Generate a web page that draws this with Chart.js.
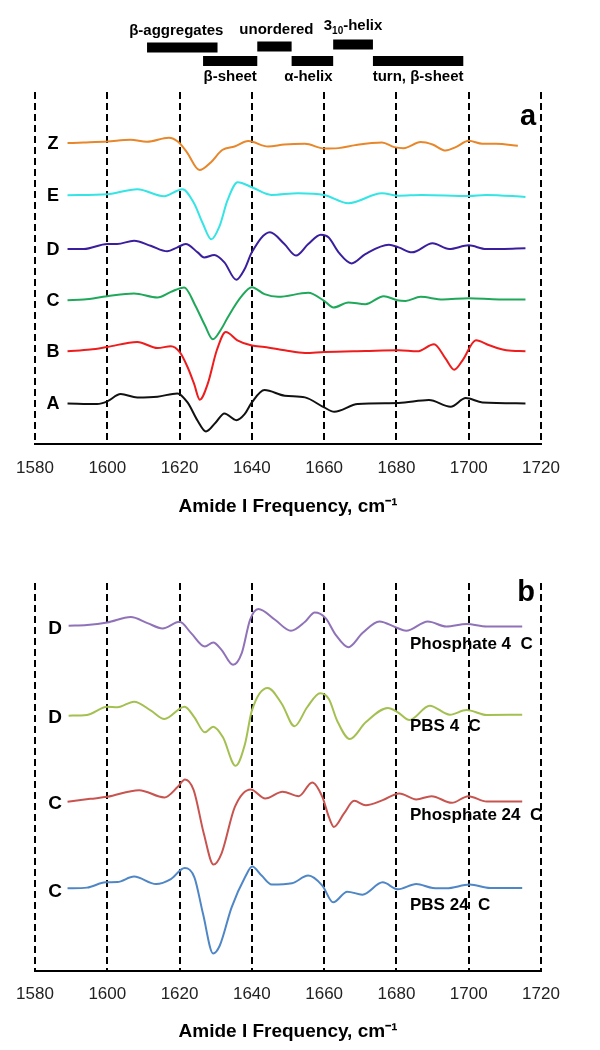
<!DOCTYPE html>
<html>
<head>
<meta charset="utf-8">
<script src="https://cdn.jsdelivr.net/npm/chart.js@4"></script>
<style>
  body { margin: 0; background: #fff; width: 600px; height: 1050px; position: relative; overflow: hidden; }
  canvas { position: absolute; left: 0; }
  #chart-a { top: 0; }
  #chart-b { top: 525px; }
</style>
</head>
<body>
<canvas id="chart-a" width="600" height="525"></canvas>
<canvas id="chart-b" width="600" height="525"></canvas>
<script>
// x axis ticks (wavenumber, cm-1)
const xTicks = [1580, 1600, 1620, 1640, 1660, 1680, 1700, 1720];

// secondary-structure bands shown above panel a
const bandNames  = ["β-aggregates", "β-sheet", "unordered", "α-helix", "3₁₀-helix", "turn, β-sheet"];
const bandRanges = [[1611, 1630.5], [1626.5, 1641.5], [1641.5, 1651], [1651, 1662.5], [1662.5, 1673.5], [1673.5, 1698.5]];

// panel a — second-derivative spectra, each series: wavenumbers + values
const labelsA  = ["Z", "E", "D", "C", "B", "A"];
const offsetsA = [26.0, 20.8, 15.4, 10.3, 5.2, 0];

const wnZ  = [1589, 1593.5, 1600, 1606.4, 1611, 1617, 1619.6, 1622, 1625.5, 1628.7, 1631.8, 1635.2, 1639, 1644.5, 1649, 1654.7, 1660, 1664, 1668.6, 1676, 1679.4, 1682, 1686.7, 1690, 1693.6, 1696.4, 1700, 1703.8, 1707.6, 1713.6];
const valZ = [-0.03, 0.03, 0.13, 0.3, 0.1, 0.5, 0.1, -0.93, -2.72, -1.93, -0.72, -0.37, 0.17, -0.37, -0.17, -0.1, -0.57, -0.53, -0.23, 0.03, -0.43, -0.53, 0.07, -0.17, -0.77, -0.43, 0.2, -0.1, -0.1, -0.3];

const wnE  = [1589, 1600, 1608.3, 1615.7, 1620.8, 1624, 1626.4, 1628.8, 1631, 1633.3, 1636.1, 1640, 1645.4, 1652.8, 1660, 1666.7, 1676, 1680.6, 1687, 1700, 1704.8, 1715.7];
const valE = [-0.03, 0.07, 0.57, -0.13, 0.57, -0.83, -2.83, -4.43, -3.17, -0.5, 1.27, 0.77, 0, 0.17, 0, -0.83, 0.17, -0.07, 0, -0.1, 0, -0.2];

const wnD  = [1589, 1593.5, 1600, 1602.7, 1607.4, 1612, 1616.6, 1619.4, 1621.7, 1625, 1626.8, 1629.6, 1632.4, 1635.7, 1638, 1640, 1645, 1649, 1652.2, 1655.6, 1659.1, 1661.2, 1664, 1667.6, 1671.4, 1677.9, 1680.6, 1684.3, 1690, 1694.6, 1700, 1704.8, 1715.7];
const valD = [0, 0, 0.5, 0.5, 0.83, 0.33, -0.23, 0.17, 0.5, -0.33, -0.83, -0.6, -1.33, -3.07, -2, -0.33, 1.67, 0.5, -0.65, 0.5, 1.43, 1.17, -0.33, -1.43, -0.5, 0.43, 0.17, -0.33, 0.57, 0, 0.37, 0, 0.07];

const wnC  = [1589, 1593.5, 1600, 1607.4, 1613.9, 1617.6, 1621.3, 1624.3, 1627, 1629.2, 1631.5, 1633.4, 1637, 1640, 1643.5, 1647.3, 1655.6, 1660, 1662.6, 1666.7, 1671.4, 1676.5, 1680.2, 1682.5, 1686.7, 1692.8, 1700, 1708.4, 1715.7];
const valC = [0, 0.07, 0.4, 0.67, 0.27, 0.83, 1.27, -0.5, -2.5, -3.9, -2.9, -1.67, 0.33, 1.3, 0.6, 0.33, 0.73, -0.07, -0.73, -0.23, -0.4, 0.4, 0, -0.07, 0.33, 0.07, 0.2, 0.07, 0.07];

const wnB  = [1589, 1595.3, 1600, 1608.3, 1613.9, 1617.6, 1620, 1622.2, 1624, 1625.6, 1627.8, 1630.3, 1632.8, 1636, 1640, 1643.5, 1649.1, 1654.7, 1660, 1671.4, 1680.6, 1685.8, 1690.4, 1693.6, 1696, 1698.3, 1702, 1705.7, 1710.4, 1715.7];
const valB = [0, 0.17, 0.43, 0.93, 0.33, 0.5, -0.07, -1.57, -3.23, -4.83, -3.23, 0.1, 1.93, 1.1, 0.57, 0.43, 0.1, -0.17, -0.07, 0.03, 0.1, 0, 0.7, -0.73, -1.83, -0.9, 1.1, 0.6, 0.1, 0];

const wnA  = [1589, 1597.2, 1600, 1603.7, 1608.3, 1613.9, 1619.4, 1622.2, 1625, 1627.3, 1630, 1632.4, 1635.7, 1638, 1640, 1643.5, 1649.1, 1654.7, 1660, 1662.8, 1669.3, 1680.6, 1689, 1695, 1699.2, 1703.8, 1715.7];
const valA = [0, -0.07, 0.2, 0.93, 0.6, 0.67, 1, 0.1, -1.73, -2.8, -1.9, -1, -1.67, -1.07, 0.1, 1.33, 0.77, 0.6, -0.4, -0.83, -0.07, 0.03, 0.33, -0.33, 0.53, 0.1, 0];

// panel b — buffer comparison
const labelsB  = ["D", "D", "C", "C"];
const notesB   = ["Phosphate 4  C", "PBS 4  C", "Phosphate 24  C", "PBS 24  C"];
const offsetsB = [26.2, 17.3, 8.7, 0];

const wnP4   = [1589.3, 1594.4, 1600, 1606.5, 1611.1, 1615.3, 1620, 1623.2, 1627, 1629.3, 1631.6, 1634.8, 1637.2, 1639.5, 1641.8, 1646.4, 1650.8, 1654.8, 1657.4, 1660.4, 1663.2, 1666.7, 1670.6, 1675.3, 1679.9, 1682.7, 1688.7, 1693.8, 1699.4, 1705, 1714.8];
const valP4  = [0, 0.07, 0.33, 0.87, 0.27, -0.27, 0.4, -0.73, -2.07, -1.67, -2.4, -3.9, -2.73, 0.6, 1.67, 0.6, -0.5, 0.43, 1.33, 0.77, -0.9, -2.13, -0.73, 0.43, -0.17, -0.5, 0.43, -0.07, 0.17, -0.07, -0.07];

const wnB4   = [1589.3, 1594.4, 1600, 1602.8, 1607.4, 1612.1, 1615.8, 1621.4, 1624.1, 1627, 1629.3, 1632, 1635.5, 1638.1, 1640, 1644.4, 1648.3, 1651.8, 1655.3, 1658.9, 1661.3, 1663.6, 1667.1, 1671.5, 1677.6, 1680.4, 1683.6, 1689.2, 1694.8, 1699.4, 1705, 1714.8];
const valB4  = [-0.07, 0, 0.83, 0.77, 1.33, 0.43, -0.4, 0.83, -0.23, -1.73, -1.17, -2.23, -5.07, -2.9, 0.43, 2.7, 1.1, -1.13, 0.77, 2.17, 1.6, -0.57, -2.4, -0.73, 0.7, 0.27, -0.5, 0.93, 0.03, 0.5, 0, 0.03];

const wnP24  = [1589, 1595.3, 1600, 1608.8, 1615.8, 1619.5, 1621.5, 1623.9, 1626.7, 1629.4, 1631.6, 1635.3, 1639.7, 1643.7, 1648.5, 1653, 1656.7, 1659.5, 1661.3, 1662.7, 1665.5, 1668.3, 1671.5, 1676.2, 1680.8, 1685.5, 1689.7, 1695.3, 1699.9, 1705, 1714.8];
const valP24 = [-0.07, 0.23, 0.43, 1.1, 0.37, 1.43, 2.17, 1.1, -3.23, -6.33, -5.23, -0.57, 1.17, 0.27, 0.95, 0.5, 1.87, 0.43, -1.57, -2.57, -1.23, 0.03, -0.4, 0.1, 0.77, 0.17, 0.5, -0.17, 0.5, -0.03, -0.03];

const wnPB24  = [1589, 1594.4, 1599.5, 1602.8, 1607.4, 1613.5, 1617.6, 1621.4, 1624.1, 1626.5, 1629.3, 1631.1, 1634.4, 1638.1, 1640.1, 1642.7, 1645.5, 1651.1, 1655.6, 1659.5, 1662.5, 1666.4, 1670.6, 1676.2, 1680.4, 1685.5, 1690.1, 1693.8, 1700.3, 1705.9, 1714.8];
const valPB24 = [0, 0.07, 0.6, 0.63, 1.17, 0.43, 0.93, 2.03, 1.1, -2.57, -6.5, -5.73, -1.9, 1.1, 2.17, 1.27, 0.37, 0.5, 1.27, 0.27, -1.4, -0.33, -0.63, 0.6, -0.1, 0.43, 0.03, 0, 0.37, 0.03, 0.03];

const FONT = '"Liberation Sans", Arial, sans-serif';

const pts = (xs, ys, off) => xs.map((x, i) => ({ x, y: ys[i] + off }));

const line = (xs, ys, off, color) => ({
  data: pts(xs, ys, off), borderColor: color, borderWidth: 2,
  pointRadius: 0, fill: false, cubicInterpolationMode: "monotone",
});

function xAxis(tickPad, titlePadTop) {
  return {
    type: "linear", min: 1580, max: 1720,
    afterBuildTicks: (s) => { s.ticks = xTicks.map((v) => ({ value: v })); },
    ticks: { padding: tickPad, color: "#222", autoSkip: false, maxRotation: 0, font: { family: FONT, size: 17 }, callback: (v) => String(v) },
    grid: { color: "#000", lineWidth: 2, drawTicks: false },
    border: { display: true, color: "#000", width: 2, dash: [7, 4] },
    title: {
      display: true, text: "Amide I Frequency, cm⁻¹", color: "#000",
      font: { family: FONT, size: 19, weight: "bold" }, padding: { top: titlePadTop, bottom: 0 },
    },
  };
}

function text(ctx, str, x, y, size, align) {
  ctx.font = `bold ${size}px ${FONT}`;
  ctx.textAlign = align || "center";
  ctx.textBaseline = "middle";
  ctx.fillText(str, x, y);
}

// structure bands + series letters for panel a
const bandTop   = [42.5, 56, 41.5, 56, 39.5, 56];
const bandTextY = [31, 76.5, 30, 76.5, 26, 76.5];
const bandShift = [-6, 0, 2, -4, 0, 0];

const panelA = {
  id: "panelA",
  afterDraw(chart) {
    const { ctx, scales: { x, y } } = chart;
    ctx.save();
    ctx.fillStyle = "#000";
    bandRanges.forEach(([lo, hi], i) => {
      const x0 = x.getPixelForValue(lo), x1 = x.getPixelForValue(hi);
      ctx.fillRect(x0, bandTop[i], x1 - x0, 10);
      const cx = (x0 + x1) / 2 + bandShift[i];
      if (bandNames[i].startsWith("3₁₀")) {
        // 3 with subscript 10
        ctx.font = `bold 15px ${FONT}`;
        const w3 = ctx.measureText("3").width, wh = ctx.measureText("-helix").width;
        ctx.font = `bold 10px ${FONT}`;
        const ws = ctx.measureText("10").width;
        let sx = cx - (w3 + ws + wh) / 2;
        ctx.textAlign = "left"; ctx.textBaseline = "middle";
        ctx.font = `bold 15px ${FONT}`; ctx.fillText("3", sx, bandTextY[i]); sx += w3;
        ctx.font = `bold 10px ${FONT}`; ctx.fillText("10", sx, bandTextY[i] + 5); sx += ws;
        ctx.font = `bold 15px ${FONT}`; ctx.fillText("-helix", sx, bandTextY[i]);
      } else {
        text(ctx, bandNames[i], cx, bandTextY[i], 15);
      }
    });
    labelsA.forEach((l, i) => text(ctx, l, 53, y.getPixelForValue(offsetsA[i]) + 1, 18));
    text(ctx, "a", 528, 117, 29);
    ctx.restore();
  },
};

const noteDy = [19, 11, 14, 17];
const panelB = {
  id: "panelB",
  afterDraw(chart) {
    const { ctx, scales: { y } } = chart;
    ctx.save();
    ctx.fillStyle = "#000";
    labelsB.forEach((l, i) => {
      const yb = y.getPixelForValue(offsetsB[i]);
      text(ctx, l, 55, yb + 3, 19);
      text(ctx, notesB[i], 410, yb + noteDy[i], 17, "left");
    });
    text(ctx, "b", 526, 68, 29);
    ctx.restore();
  },
};

new Chart(document.getElementById("chart-a").getContext("2d"), {
  type: "line",
  data: {
    datasets: [
      line(wnZ, valZ, offsetsA[0], "#e8862a"),
      line(wnE, valE, offsetsA[1], "#35e4e4"),
      line(wnD, valD, offsetsA[2], "#3a1e9e"),
      line(wnC, valC, offsetsA[3], "#1fa85a"),
      line(wnB, valB, offsetsA[4], "#ee1c1c"),
      line(wnA, valA, offsetsA[5], "#111111"),
    ],
  },
  options: {
    responsive: false, animation: false,
    layout: { padding: { left: 35, right: 59, top: 92, bottom: 7 } },
    plugins: { legend: { display: false }, tooltip: { enabled: false } },
    scales: {
      x: xAxis(14, 3),
      y: { display: false, min: -4.03, max: 31.07 },
    },
  },
  plugins: [panelA],
});

new Chart(document.getElementById("chart-b").getContext("2d"), {
  type: "line",
  data: {
    datasets: [
      line(wnP4, valP4, offsetsB[0], "#8f72b8"),
      line(wnB4, valB4, offsetsB[1], "#a3c050"),
      line(wnP24, valP24, offsetsB[2], "#c85450"),
      line(wnPB24, valPB24, offsetsB[3], "#4f86c6"),
    ],
  },
  options: {
    responsive: false, animation: false,
    layout: { padding: { left: 35, right: 59, top: 58, bottom: 7 } },
    plugins: { legend: { display: false }, tooltip: { enabled: false } },
    scales: {
      x: xAxis(13, 3),
      y: { display: false, min: -8.23, max: 30.47 },
    },
  },
  plugins: [panelB],
});
</script>
</body>
</html>
